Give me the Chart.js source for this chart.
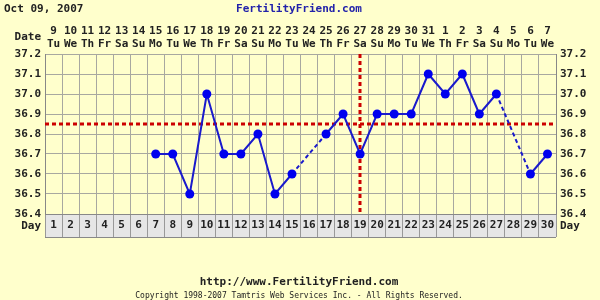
<!DOCTYPE html>
<html>
<head>
<meta charset="utf-8">
<script src="https://cdn.jsdelivr.net/npm/chart.js@4"></script>
<style>
html,body{margin:0;padding:0;background:#FFFFCC;}
canvas{display:block;}
</style>
</head>
<body>
<canvas id="c" width="600" height="300"></canvas>
<script>
const cycleDays = ['1','2','3','4','5','6','7','8','9','10','11','12','13','14','15','16','17','18','19','20','21','22','23','24','25','26','27','28','29','30'];
const dates = ['9','10','11','12','13','14','15','16','17','18','19','20','21','22','23','24','25','26','27','28','29','30','31','1','2','3','4','5','6','7'];
const weekdays = ['Tu','We','Th','Fr','Sa','Su','Mo','Tu','We','Th','Fr','Sa','Su','Mo','Tu','We','Th','Fr','Sa','Su','Mo','Tu','We','Th','Fr','Sa','Su','Mo','Tu','We'];
const temps = [null,null,null,null,null,null,36.7,36.7,36.5,37.0,36.7,36.7,36.8,36.5,36.6,null,36.8,36.9,36.7,36.9,36.9,36.9,37.1,37.0,37.1,36.9,37.0,null,36.6,36.7];
const coverline = 36.85;
const ovulationDay = '19';
const yMin = 36.4, yMax = 37.2, yStep = 0.1;
const chartDate = 'Oct 09, 2007';
const siteTitle = 'FertilityFriend.com';
const siteUrl = 'http://www.FertilityFriend.com';
const copyright = 'Copyright 1998-2007 Tamtris Web Services Inc. - All Rights Reserved.';

const MONO = '"DejaVu Sans Mono", "Liberation Mono", monospace';
const TXT = '#222222';
const GRID = '#a8a8a0';

const decor = {
  id: 'decor',
  beforeDraw(chart) {
    const ctx = chart.ctx, a = chart.chartArea, xs = chart.scales.x;
    ctx.save();
    ctx.fillStyle = '#FFFFCC';
    ctx.fillRect(0, 0, chart.width, chart.height);
    ctx.fillStyle = '#E6E6E6';
    ctx.fillRect(a.left, a.bottom, a.right - a.left, xs.bottom - a.bottom);
    ctx.restore();
  },
  beforeDatasetsDraw(chart) {
    const ctx = chart.ctx, a = chart.chartArea, xs = chart.scales.x, ys = chart.scales.y;
    ctx.save();
    ctx.strokeStyle = '#CC0000';
    ctx.lineWidth = 3;
    ctx.setLineDash([4, 3]);
    const yc = Math.round(ys.getPixelForValue(coverline));
    ctx.beginPath(); ctx.moveTo(a.left, yc); ctx.lineTo(a.right, yc); ctx.stroke();
    const xo = Math.round(xs.getPixelForValue(cycleDays.indexOf(ovulationDay)));
    ctx.beginPath(); ctx.moveTo(xo, a.top); ctx.lineTo(xo, a.bottom); ctx.stroke();
    ctx.restore();
  },
  afterDraw(chart) {
    const ctx = chart.ctx, a = chart.chartArea, xs = chart.scales.x, xt = chart.scales.xTop;
    ctx.save();
    // day row frame
    ctx.strokeStyle = '#888888';
    ctx.lineWidth = 1;
    ctx.beginPath();
    ctx.moveTo(a.left, Math.round(xs.bottom) + 0.5);
    ctx.lineTo(a.right, Math.round(xs.bottom) + 0.5);
    ctx.stroke();
    ctx.fillStyle = TXT;
    ctx.font = 'bold 11px ' + MONO;
    ctx.textBaseline = 'middle';
    ctx.textAlign = 'right';
    ctx.fillText('Date', a.left - 4, 37);
    ctx.fillText('Day', a.left - 4, (a.bottom + xs.bottom) / 2 + 1);
    ctx.textAlign = 'left';
    ctx.fillText('Day', a.right + 4, (a.bottom + xs.bottom) / 2 + 1);
    ctx.fillText(chartDate, 4, 9);
    ctx.textAlign = 'center';
    ctx.fillStyle = '#2222AA';
    ctx.fillText(siteTitle, 299, 9);
    ctx.fillStyle = TXT;
    ctx.font = 'bold 11px ' + MONO;
    ctx.fillText(siteUrl, 299, 282);
    ctx.font = '8px ' + MONO;
    ctx.fillText(copyright, 299, 296);
    ctx.restore();
  }
};

const dashGap = (c) => (c.p0.skip || c.p1.skip) ? [4, 3] : undefined;

new Chart(document.getElementById('c'), {
  type: 'line',
  data: {
    labels: cycleDays,
    datasets: [{
      data: temps,
      xAxisID: 'x',
      yAxisID: 'y',
      borderColor: '#1a1acc',
      borderWidth: 2,
      backgroundColor: '#0000EE',
      pointBackgroundColor: '#0000EE',
      pointBorderWidth: 0,
      pointRadius: 4.5,
      tension: 0,
      spanGaps: true,
      segment: { borderDash: dashGap }
    }]
  },
  options: {
    responsive: false,
    animation: false,
    devicePixelRatio: 1,
    layout: { padding: { top: 0, left: 0, right: 0, bottom: 63 } },
    plugins: { legend: { display: false }, tooltip: { enabled: false }, title: { display: false } },
    scales: {
      x: {
        type: 'category',
        position: 'bottom',
        offset: true,
        grid: { offset: true, color: GRID, tickLength: 23, drawTicks: true, tickColor: '#999999' },
        border: { color: '#888888' },
        ticks: { autoSkip: false, maxRotation: 0, color: TXT, font: { family: MONO, size: 11, weight: 'bold' }, padding: -18 },
        afterFit(s) { s.height = 23; }
      },
      xTop: {
        type: 'category',
        position: 'top',
        labels: dates.map((d, i) => [d, weekdays[i]]),
        offset: true,
        grid: { display: false, drawTicks: false },
        border: { display: false },
        ticks: { autoSkip: false, maxRotation: 0, color: TXT, font: { family: MONO, size: 11, weight: 'bold', lineHeight: 1.18 }, padding: 3 },
        afterFit(s) { s.height = 54; }
      },
      y: {
        position: 'left',
        min: yMin, max: yMax,
        ticks: { stepSize: yStep, color: TXT, font: { family: MONO, size: 11, weight: 'bold' }, padding: 4, callback: v => Number(v).toFixed(1) },
        grid: { color: GRID, drawTicks: false },
        border: { color: '#888888' },
        afterFit(s) { s.width = 45; }
      },
      y2: {
        position: 'right',
        min: yMin, max: yMax,
        ticks: { stepSize: yStep, color: TXT, font: { family: MONO, size: 11, weight: 'bold' }, padding: 4, callback: v => Number(v).toFixed(1) },
        grid: { display: false, drawTicks: false },
        border: { color: '#888888' },
        afterFit(s) { s.width = 44; }
      }
    }
  },
  plugins: [decor]
});
</script>
</body>
</html>
